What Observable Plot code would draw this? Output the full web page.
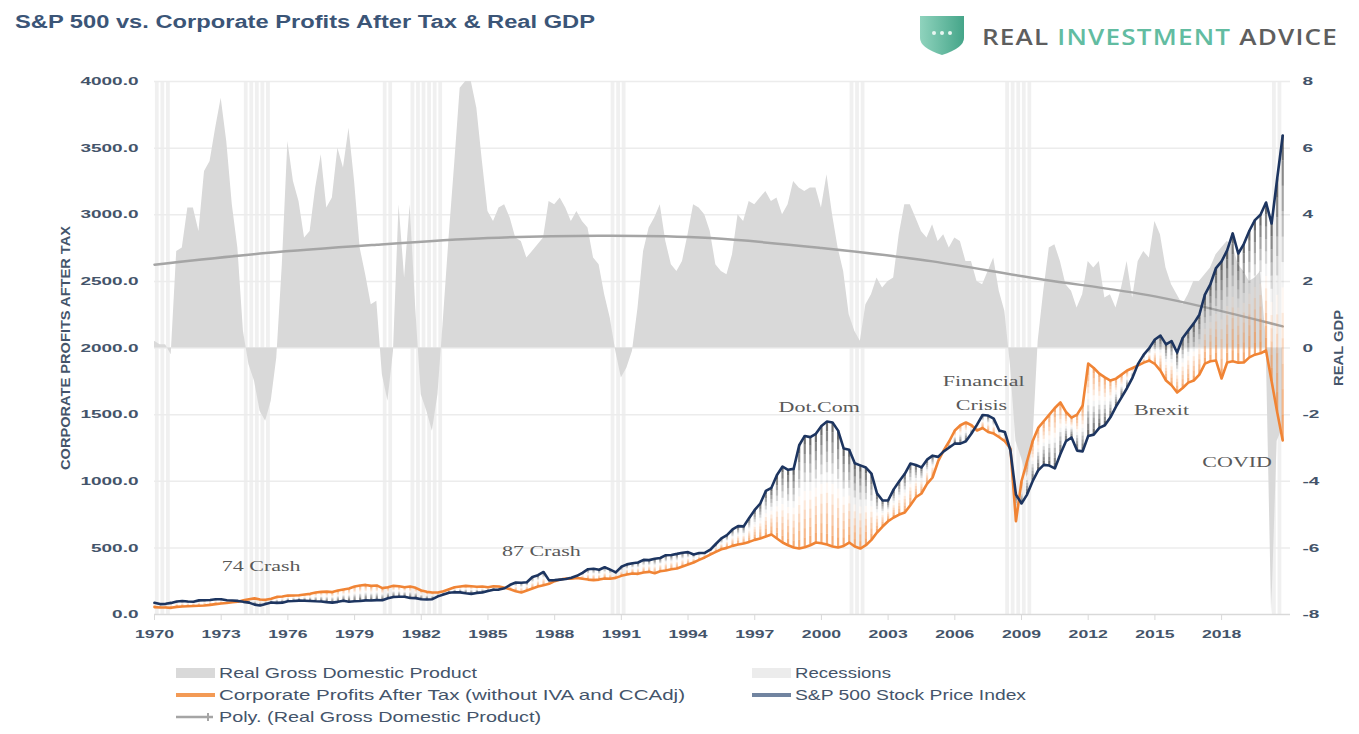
<!DOCTYPE html>
<html><head><meta charset="utf-8">
<script src="https://cdn.jsdelivr.net/npm/d3@7"></script>
<script src="https://cdn.jsdelivr.net/npm/@observablehq/plot@0.6"></script>
<style>
html,body{margin:0;padding:0;background:#fff;width:1359px;height:734px;overflow:hidden;position:relative;font-family:"Liberation Sans",Arial,sans-serif;}
.fit{position:absolute;white-space:nowrap;transform-origin:0 50%;display:inline-block;}
#chart{position:absolute;left:0;top:55px;}
.lg{position:absolute;}
.lt{font-size:15px;line-height:18px;color:#44546a;}
</style></head><body>
<div id="title" class="fit" data-w="580" style="left:15px;top:12px;font-size:18px;font-weight:bold;color:#3b5577;line-height:20px;">S&amp;P 500 vs. Corporate Profits After Tax &amp; Real GDP</div>
<svg style="position:absolute;left:918px;top:14px" width="48" height="42" viewBox="0 0 48 42">
  <defs><linearGradient id="sg" x1="0" x2="1" y1="0" y2="0"><stop offset="0" stop-color="#8fd3bd"/><stop offset="1" stop-color="#45a589"/></linearGradient></defs>
  <path d="M2,2 H46 V24 Q46,34 24,41 Q2,34 2,24 Z" fill="url(#sg)"/>
  <circle cx="16" cy="19" r="2" fill="#e8f6f1"/><circle cx="24" cy="19" r="2" fill="#e8f6f1"/><circle cx="32" cy="19" r="2" fill="#e8f6f1"/>
</svg>
<div id="logo" class="fit" data-w="356" style="left:982px;top:24px;font-size:22px;line-height:24px;font-family:'Open Sans','Liberation Sans',sans-serif;font-weight:600;letter-spacing:1px;"><span style="color:#5e5e5e">REAL </span><span style="color:#62bca1">INVESTMENT </span><span style="color:#5e5e5e">ADVICE</span></div>
<div id="chart"></div>
<div id="legend"></div>
<script>
// ---------- data (quarterly, 1970Q1 .. 2020Q4) ----------
const startYear = 1970;
const realGDP = [
 0.2,0.1,0.1,-0.2, 2.9,3.0,4.2,4.2, 3.5,5.3,5.6,6.6, 7.5,6.2,4.3,3.0, 0.5,-0.5,-1.0,-1.9,
 -2.2,-1.6,-0.3,2.5, 6.2,5.0,4.4,3.3, 3.5,4.8,5.8,4.2, 4.5,6.0,5.4,6.6, 5.0,3.0,2.2,1.3,
 1.4,-0.8,-1.6,-0.1, 4.3,2.1,4.3,1.2, -1.4,-1.9,-2.5,-1.4, 0.9,3.3,5.5,7.8, 8.0,8.0,7.2,5.6,
 4.1,3.8,4.2,4.3, 3.9,3.3,3.2,2.7, 2.9,3.1,3.3,4.4, 4.3,4.5,4.2,3.8, 4.1,3.8,3.6,2.7,
 2.5,1.6,0.9,-0.1, -0.9,-0.6,-0.1,1.2, 2.9,3.6,3.9,4.3, 3.2,2.5,2.3,2.6, 3.4,4.3,4.2,4.0,
 3.5,2.5,2.3,2.2, 2.8,4.0,3.8,4.4, 4.3,4.5,4.7,4.4, 4.5,4.0,4.3,5.0, 4.8,4.7,4.8,4.8,
 4.2,5.2,4.0,3.0, 2.3,1.0,0.5,0.2, 1.3,1.6,2.1,1.8, 2.0,2.1,3.4,4.3, 4.3,3.9,3.5,3.3,
 3.7,3.2,3.4,3.0, 3.3,3.2,2.6,2.6, 2.0,1.9,2.3,2.7, 1.7,1.1,-0.5,-2.8, -3.3,-3.9,-3.0,0.2,
 1.7,3.0,3.1,2.6, 1.9,1.7,1.2,1.6, 2.6,2.4,2.6,1.5, 1.6,1.2,1.8,2.6, 1.5,2.6,2.9,2.7,
 3.8,3.4,2.4,1.9, 1.6,1.3,1.6,2.0, 2.0,2.2,2.4,2.8, 3.0,3.2,3.1,2.5, 2.3,2.0,2.1,2.3,
 0.3,-8.0,-2.8,-2.4
];
const corpProfits = [
 55,52,53,50, 57,60,62,64, 66,68,72,78, 82,86,92,96, 106,115,121,112,
 110,118,132,135, 142,143,145,150, 155,165,170,172, 168,180,188,195, 210,218,222,215,
 218,198,205,215, 212,205,210,200, 180,170,165,165, 175,190,205,210, 215,212,208,210,
 205,212,210,200, 190,175,165,180, 195,210,220,230, 250,262,270,268, 275,268,262,258,
 262,270,268,275, 290,300,308,305, 315,320,310,325, 330,340,345,360, 375,390,410,428,
 450,470,490,500, 515,525,533,545, 560,570,585,600, 570,540,520,503, 495,505,520,540,
 535,525,510,503, 515,540,510,495, 520,560,615,660, 700,728,750,765, 820,880,908,980,
 1028,1150,1231,1300, 1381,1420,1441,1420, 1381,1400,1370,1358, 1330,1300,1246,700, 1000,1150,1300,1400,
 1450,1500,1550,1591, 1520,1478,1500,1568, 1883,1850,1808,1780, 1756,1770,1800,1831, 1850,1870,1890,1906,
 1880,1830,1756,1720, 1666,1700,1740,1756, 1800,1883,1900,1906, 1771,1891,1900,1890, 1891,1930,1950,1960,
 1981,1750,1520,1306
];
const sp500 = [
 88,78,80,87, 98,101,98,96, 106,107,109,114, 114,107,105,102, 95,89,74,67,
 79,90,87,89, 100,101,104,103, 101,99,98,93, 89,95,103,96, 99,101,106,105,
 108,107,122,131, 133,133,124,123, 114,113,115,136, 150,163,167,166, 160,155,162,166,
 176,186,187,197, 223,240,238,242, 281,295,319,256, 258,262,266,276, 290,312,340,343,
 336,355,337,316, 358,376,384,390, 410,408,418,424, 445,447,455,464, 468,450,461,462,
 486,529,571,596, 638,663,661,725, 785,833,927,951, 1047,1110,1086,1093, 1270,1340,1331,1356,
 1415,1448,1441,1380, 1246,1237,1135,1119, 1103,1057,909,856, 856,939,1000,1056, 1133,1122,1104,1162,
 1192,1183,1224,1253, 1283,1282,1300,1358, 1425,1497,1493,1470, 1381,1370,1231,900, 833,900,1000,1081,
 1123,1118,1096,1204, 1300,1328,1230,1224, 1340,1350,1400,1420, 1480,1560,1630,1700, 1780,1883,1950,2000,
 2064,2093,2027,2052, 1966,2075,2131,2185, 2250,2400,2480,2600, 2650,2732,2860,2709, 2780,2880,2960,3000,
 3092,2934,3270,3595
];
const recessionStart = [1970.0, 1974.0, 1980.25, 1981.5, 1990.5, 2001.25, 2008.25, 2020.25];
const recessionEnd   = [1970.75, 1975.25, 1980.75, 1983.0, 1991.25, 2002.0, 2009.5, 2020.75];
const polyYears = [1970, 1975, 1980, 1985, 1990, 1995, 2000, 2005, 2010, 2015, 2020.75];
const polyGDP   = [2.5, 2.85, 3.1, 3.3, 3.37, 3.3, 3.0, 2.6, 2.05, 1.55, 0.65];
const annLabels = ["74 Crash", "87 Crash", "Dot.Com", "Financial", "Crisis", "Brexit", "COVID"];
const annYears  = [1974.8, 1987.4, 1999.9, 2007.3, 2007.2, 2015.3, 2018.7];
const annValues = [360, 473, 1553, 1749, 1568, 1531, 1141];
const leftTicks = [0, 500, 1000, 1500, 2000, 2500, 3000, 3500, 4000];
const rightTicks = [-8, -6, -4, -2, 0, 2, 4, 6, 8];
const xTicks = d3.range(1970, 2019, 3);
const leftTitle = "CORPORATE PROFITS AFTER TAX", rightTitle = "REAL GDP";

// ---------- derived tables ----------
const toLeft = g => (g + 8) * 250; // map right axis (-8..8) onto left axis (0..4000)
const dates = realGDP.map((_, k) => startYear + k / 4);
const gdpData = realGDP.map((g, k) => ({date: dates[k], base: toLeft(0), v: toLeft(g)}));
const profitData = corpProfits.map((v, k) => ({date: dates[k], v}));
const spData = sp500.map((v, k) => ({date: dates[k], v}));
const polyData = polyYears.map((y, i) => ({date: y, v: toLeft(polyGDP[i])}));
const recQ = [];
recessionStart.forEach((s, i) => { for (let q = s; q < recessionEnd[i] - 1e-9; q += 0.25) recQ.push({x1: q, x2: q + 0.25, lo: 0, hi: 4000}); });
const N = 12, stripes = [];
dates.forEach((d, k) => {
  const b = sp500[k], o = corpProfits[k];
  for (let i = 0; i < N; i++) {
    const t = (i + 0.5) / N, a = (Math.abs(t - 0.5) * 2 * 0.75).toFixed(3);
    stripes.push({x: d, y1: b + (o - b) * i / N, y2: b + (o - b) * (i + 1) / N,
      c: t < 0.5 ? `rgba(45,45,45,${a})` : `rgba(240,132,53,${a})`});
  }
});
const ann = annLabels.map((t, i) => ({t, x: annYears[i], y: annValues[i]}));

const axisColor = "#44546a";
const hasAxis = typeof Plot.axisY === "function";
const axisMarks = hasAxis ? [
  Plot.axisY(leftTicks, {anchor: "left", tickSize: 0, tickPadding: 16, tickFormat: d => d.toFixed(1), fontSize: 11.5, fontWeight: "bold", color: axisColor, label: null}),
  Plot.axisY(rightTicks.map(toLeft), {anchor: "right", tickSize: 0, tickPadding: 12, tickFormat: d => String(Math.round(d / 250 - 8)), fontSize: 11.5, fontWeight: "bold", color: axisColor, label: null}),
  Plot.axisX(xTicks, {anchor: "bottom", tickSize: 6, tickPadding: 10, tickFormat: d => String(d), fontSize: 11, fontWeight: "bold", color: axisColor, stroke: "#d9d9d9", label: null})
] : [
  Plot.text(leftTicks, {y: d => d, frameAnchor: "left", dx: -16, textAnchor: "end", text: d => d.toFixed(1), fontSize: 11.5, fontWeight: "bold", fill: axisColor}),
  Plot.text(rightTicks, {y: d => toLeft(d), frameAnchor: "right", dx: 12, textAnchor: "start", text: d => String(d), fontSize: 11.5, fontWeight: "bold", fill: axisColor}),
  Plot.text(xTicks, {x: d => d, frameAnchor: "bottom", dy: 22, text: d => String(d), fontSize: 11, fontWeight: "bold", fill: axisColor}),
  Plot.tickX(xTicks, {x: d => d, y1: 0, y2: -45, stroke: "#d9d9d9"})
];

const chart = Plot.plot({
  width: 1359, height: 600,
  marginLeft: 154, marginRight: 69, marginTop: 26, marginBottom: 41,
  x: {domain: [1970, 2021.1], axis: null},
  y: {domain: [0, 4000], axis: null},
  color: {type: "identity"},
  style: {fontFamily: "'Liberation Sans', Arial, sans-serif", background: "transparent", overflow: "visible"},
  marks: [
    Plot.rect(recQ, {x1: "x1", x2: "x2", y1: "lo", y2: "hi", fill: "#f0f0f0", insetLeft: 0.9, insetRight: 0.9}),
    Plot.ruleY(leftTicks.slice(1), {stroke: "#ececec", strokeWidth: 1.5}),
    Plot.areaY(gdpData, {x: "date", y1: "base", y2: "v", fill: "#d9d9d9"}),
    Plot.line(polyData, {x: "date", y: "v", stroke: "#a5a5a5", strokeWidth: 2.5, curve: "natural"}),
    Plot.ruleY([0], {stroke: "#d9d9d9", strokeWidth: 1.5}),
    Plot.ruleX(stripes, {x: "x", y1: "y1", y2: "y2", stroke: "c", strokeWidth: 2.2}),
    Plot.line(profitData, {x: "date", y: "v", stroke: "#f08435", strokeWidth: 2.6}),
    Plot.line(spData, {x: "date", y: "v", stroke: "#1d3560", strokeWidth: 2.6}),
    Plot.text(ann, {x: "x", y: "y", text: "t", fontFamily: "'Liberation Serif', 'DejaVu Serif', serif", fontSize: 14, fill: "#595959"}),
    Plot.text([leftTitle], {frameAnchor: "left", dx: -88, rotate: -90, textAnchor: "middle", fontSize: 12, fontWeight: "bold", fill: axisColor}),
    Plot.text([rightTitle], {frameAnchor: "right", dx: 49, rotate: -90, textAnchor: "middle", fontSize: 12, fontWeight: "bold", fill: axisColor}),
    ...axisMarks
  ]
});
document.getElementById("chart").appendChild(chart);

// horizontal stretch of the reference's wide lettering
function setLen(t, len) { t.setAttribute("textLength", len.toFixed(1)); t.setAttribute("lengthAdjust", "spacingAndGlyphs"); }
const leftLabels = new Set(leftTicks.map(d => d.toFixed(1)));
const rightLabels = new Set(rightTicks.map(String));
const xLabels = new Set(xTicks.map(String));
const annSet = new Set(annLabels);
chart.querySelectorAll("text").forEach(t => {
  const s = t.textContent, w = t.getComputedTextLength();
  if (!(w > 0)) return;
  if (s === leftTitle) setLen(t, 244);
  else if (s === rightTitle) setLen(t, 76);
  else if (annSet.has(s)) setLen(t, w * 1.57);
  else if (leftLabels.has(s) || rightLabels.has(s)) setLen(t, w * 1.65);
  else if (xLabels.has(s)) setLen(t, w * 1.6);
});

// ---------- legend ----------
const legendItems = [
  {label: "Real Gross Domestic Product", x: 176, y: 673, w: 258, kind: "box", color: "#d9d9d9"},
  {label: "Recessions", x: 752, y: 673, w: 96, kind: "box", color: "#ececec"},
  {label: "Corporate Profits After Tax (without IVA and CCAdj)", x: 176, y: 695, w: 466, kind: "line", color: "#f39a55"},
  {label: "S&P 500 Stock Price Index", x: 752, y: 695, w: 231, kind: "line", color: "#7184a0"},
  {label: "Poly. (Real Gross Domestic Product)", x: 176, y: 717, w: 322, kind: "poly", color: "#a5a5a5"}
];
const lg = document.getElementById("legend");
legendItems.forEach(it => {
  const s = document.createElementNS("http://www.w3.org/2000/svg", "svg");
  s.setAttribute("width", 40); s.setAttribute("height", 14);
  s.setAttribute("class", "lg"); s.style.left = it.x + "px"; s.style.top = (it.y - 7) + "px";
  if (it.kind === "box") s.innerHTML = `<rect x="0" y="2" width="39" height="10" fill="${it.color}"/>`;
  else if (it.kind === "line") s.innerHTML = `<line x1="0" x2="39" y1="7" y2="7" stroke="${it.color}" stroke-width="4"/>`;
  else s.innerHTML = `<line x1="0" x2="37" y1="7" y2="7" stroke="${it.color}" stroke-width="2.5"/><line x1="32" x2="32" y1="3" y2="11" stroke="${it.color}" stroke-width="2"/>`;
  lg.appendChild(s);
  const t = document.createElement("div");
  t.className = "fit lt"; t.textContent = it.label; t.dataset.w = it.w;
  t.style.left = (it.x + 43) + "px"; t.style.top = (it.y - 9) + "px";
  lg.appendChild(t);
});
document.querySelectorAll(".fit").forEach(el => {
  const w = el.getBoundingClientRect().width, target = +el.dataset.w;
  if (w > 0 && target) el.style.transform = `scaleX(${(target / w).toFixed(4)})`;
});
</script>
</body></html>
